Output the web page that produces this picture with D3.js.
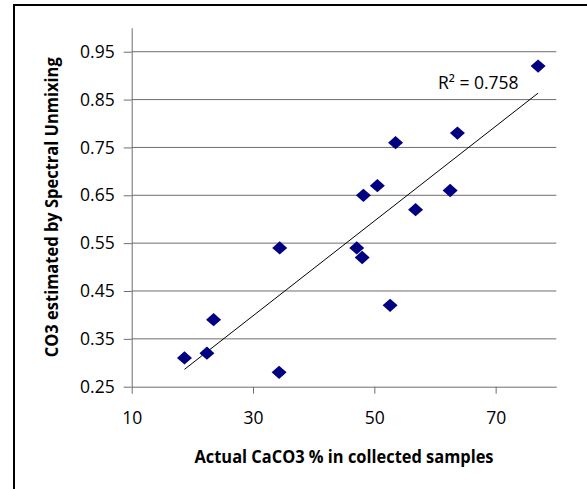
<!DOCTYPE html>
<html>
<head>
<meta charset="utf-8">
<script src="https://cdn.jsdelivr.net/npm/d3@7"></script>
<style>
  body { margin: 0; background: #fff; }
  svg { display: block; }
</style>
</head>
<body>
<div id="chart"></div>
<script>
// Samples: actual CaCO3 % vs CO3 estimated by spectral unmixing
const actualCaCO3 = [77.0, 63.7, 53.5, 50.5, 48.2, 62.5, 56.8, 47.1, 48.0, 34.4, 52.6, 23.5, 22.4, 18.7, 34.3];
const estimatedCO3 = [0.92, 0.78, 0.76, 0.67, 0.65, 0.66, 0.62, 0.54, 0.52, 0.54, 0.42, 0.39, 0.32, 0.31, 0.28];
const xTicks = [10, 30, 50, 70];
const yTicks = [0.25, 0.35, 0.45, 0.55, 0.65, 0.75, 0.85, 0.95];
const xTitle = "Actual CaCO3 % in collected samples";
const yTitle = "CO3 estimated by Spectral Unmixing";

const width = 587, height = 489;
const font = "'Open Sans', sans-serif";

const points = actualCaCO3.map((d, i) => ({x: d, y: estimatedCO3[i]}));

const x = d3.scaleLinear().domain([10, 80]).range([131.7, 556.3]);
const y = d3.scaleLinear().domain([0.25, 1.0]).range([386.7, 27.8]);

const svg = d3.select("#chart").append("svg")
	.attr("width", width)
	.attr("height", height);

svg.append("rect")
	.attr("width", width).attr("height", height)
	.attr("fill", "#fff");

// outer chart border (only left and top edges fall inside the picture)
svg.append("rect")
	.attr("x", 14).attr("y", 5)
	.attr("width", 700).attr("height", 600)
	.attr("fill", "none")
	.attr("stroke", "#000")
	.attr("stroke-width", 2);

// horizontal gridlines
svg.append("g")
	.selectAll("line")
	.data(yTicks.slice(1))
	.join("line")
	.attr("x1", x(10)).attr("x2", x(80))
	.attr("y1", d => y(d)).attr("y2", d => y(d))
	.attr("stroke", "#6e6e6e")
	.attr("stroke-width", 1);

const yAxis = d3.axisLeft(y)
	.tickValues(yTicks)
	.tickFormat(d3.format(".2f"))
	.tickSize(8)
	.tickSizeOuter(0)
	.tickPadding(9);

const xAxis = d3.axisBottom(x)
	.tickValues(xTicks)
	.tickSize(7)
	.tickSizeOuter(0)
	.tickPadding(18);

const gy = svg.append("g")
	.attr("transform", "translate(" + x(10) + ",0)")
	.call(yAxis);

const gx = svg.append("g")
	.attr("transform", "translate(0," + y(0.25) + ")")
	.call(xAxis);

[gx, gy].forEach(g => {
	g.selectAll(".domain, .tick line").attr("stroke", "#6e6e6e");
	g.selectAll("text")
		.attr("fill", "#000")
		.attr("font-family", font)
		.attr("font-size", "17.5px");
});

// linear trendline (least squares) over the data range
const mx = d3.mean(points, d => d.x);
const my = d3.mean(points, d => d.y);
const sxy = d3.sum(points, d => (d.x - mx) * (d.y - my));
const sxx = d3.sum(points, d => (d.x - mx) ** 2);
const syy = d3.sum(points, d => (d.y - my) ** 2);
const slope = sxy / sxx;
const intercept = my - slope * mx;
const r2 = (sxy * sxy) / (sxx * syy);
const xExt = d3.extent(points, d => d.x);

svg.append("line")
	.attr("x1", x(xExt[0])).attr("y1", y(intercept + slope * xExt[0]))
	.attr("x2", x(xExt[1])).attr("y2", y(intercept + slope * xExt[1]))
	.attr("stroke", "#000")
	.attr("stroke-width", 1);

// diamond markers
svg.append("g")
	.selectAll("path")
	.data(points)
	.join("path")
	.attr("d", d3.symbol(d3.symbolSquare, 104))
	.attr("transform", d => "translate(" + x(d.x) + "," + y(d.y) + ") scale(1.04,0.92) rotate(45)")
	.attr("fill", "#000080");

svg.append("text")
	.attr("x", 438).attr("y", 89)
	.attr("font-family", font)
	.attr("font-size", "17.5px")
	.text("R² = " + r2.toFixed(3));

svg.append("text")
	.attr("x", (x(10) + x(80)) / 2).attr("y", 462.5)
	.attr("text-anchor", "middle")
	.attr("font-family", font)
	.attr("font-weight", "bold")
	.attr("font-size", "17.5px")
	.attr("textLength", 299)
	.attr("lengthAdjust", "spacingAndGlyphs")
	.text(xTitle);

svg.append("text")
	.attr("transform", "translate(57.5," + (y(0.25) + y(1.0)) / 2 + ") rotate(-90)")
	.attr("text-anchor", "middle")
	.attr("font-family", font)
	.attr("font-weight", "bold")
	.attr("font-size", "17.5px")
	.attr("textLength", 300)
	.attr("lengthAdjust", "spacingAndGlyphs")
	.text(yTitle);
</script>
</body>
</html>
